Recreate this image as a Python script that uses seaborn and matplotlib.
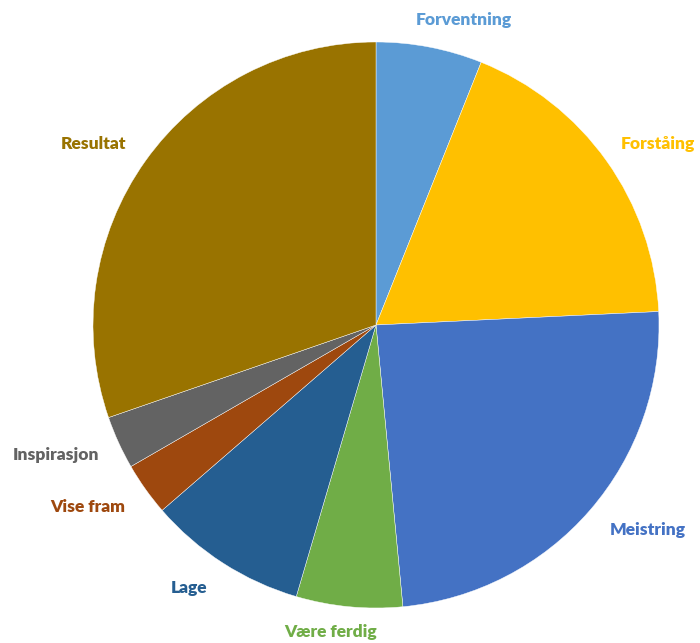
import numpy as np
import seaborn as sns
import matplotlib.pyplot as plt

# chart data, clockwise from the top
categories = ['Forventning', 'Forståing', 'Meistring', 'Være ferdig',
              'Lage', 'Vise fram', 'Inspirasjon', 'Resultat']
counts = [2, 6, 8, 2, 3, 1, 1, 10]
colors = ['#5B9BD5', '#FFC000', '#4472C4', '#70AD47',
          '#255E91', '#9E480E', '#636363', '#997300']

# label placement (data units, pie radius = 1)
label_pos = [(0.31, 1.078), (0.995, 0.64), (0.96, -0.724), (-0.16, -1.085),
             (-0.66, -0.929), (-1.02, -0.643), (-1.13, -0.459), (-1.0, 0.64)]

sns.set_theme(style='white')
plt.rcParams['font.family'] = ['Lato', 'DejaVu Sans']

fig = plt.figure(figsize=(7, 6.43), dpi=100)
ax = fig.add_axes([93 / 700, 35 / 643, 566 / 700, 566 / 643])

wedges, texts = ax.pie(counts, labels=categories, colors=colors,
                       startangle=90, counterclock=False,
                       wedgeprops=dict(edgecolor='white', linewidth=0.3))

for t, c, (x, y) in zip(texts, colors, label_pos):
    t.set_position((x, y))
    t.set_ha('center')
    t.set_va('center')
    t.set_color(c)
    t.set_fontweight('heavy')
    t.set_fontsize(12.5)

ax.set_xlim(-1, 1)
ax.set_ylim(-1, 1)
ax.set_aspect('equal')
ax.axis('off')

fig.savefig('out.png', dpi=100)
